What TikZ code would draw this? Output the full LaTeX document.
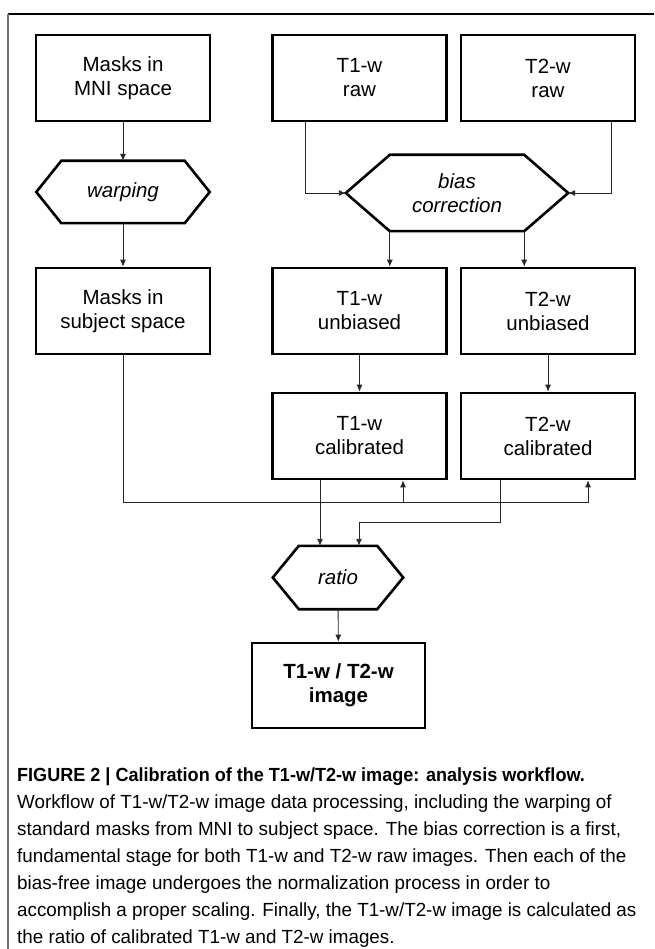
\documentclass[tikz,border=0pt]{standalone}
\usepackage{fontspec}
\setmainfont{Liberation Sans}
\newfontfamily\capfont{Liberation Sans}[FakeStretch=0.99]
\usetikzlibrary{arrows.meta}
% hexagon outline round a node: name, slant
\newcommand{\hexline}[2]{%
  \draw[line width=2.6pt, line join=miter] (#1.west) -- ([xshift=#2]#1.north west)
    -- ([xshift=-#2]#1.north east) -- (#1.east) -- ([xshift=-#2]#1.south east)
    -- ([xshift=#2]#1.south west) -- cycle;}
\begin{document}
\begin{tikzpicture}[x=1pt, y=-1pt,
    box/.style={draw, line width=2.6pt, minimum width=174pt, minimum height=86pt, inner sep=0pt, align=center, font=\fontsize{20.5}{24}\selectfont},
    hexa/.style={minimum width=#1, inner sep=0pt, align=center, font=\fontsize{20.5}{24}\selectfont\itshape},
    arrow/.style={->, >={Latex[length=7pt,width=6pt]}, line width=0.9pt, black!85},
    frame/.style={line width=1.4pt}
]
    \useasboundingbox (0,0) rectangle (654,949);
    % frame
    \draw[frame] (8,14) -- (654,14);
    \draw[frame, black!55, line width=2pt] (8,14) -- (8,949);
    % masks
    \node[box] (mni) at (123,78) {Masks in\\MNI space};
    \node[hexa=173pt, minimum height=62pt] (warp) at (123,192) {warping};
    \hexline{warp}{25pt}
    \node[box] (subj) at (123,311) {Masks in\\subject space};
    % raw images
    \node[box] (t1raw) at (359.5,78) {T1-w\\raw};
    \node[box] (t2raw) at (548,78) {T2-w\\raw};
    \node[hexa=222pt, minimum height=76pt] (bias) at (457,193) {bias\\correction};
    \hexline{bias}{44pt}
    % unbiased and calibrated
    \node[box] (t1unb) at (359.5,311) {T1-w\\unbiased};
    \node[box] (t2unb) at (548,311) {T2-w\\unbiased};
    \node[box] (t1cal) at (359.5,436) {T1-w\\calibrated};
    \node[box] (t2cal) at (548,436) {T2-w\\calibrated};
    % ratio
    \node[hexa=130pt, minimum height=63pt] (ratio) at (338,577.5) {ratio};
    \hexline{ratio}{26pt}
    \node[box, minimum width=173pt, minimum height=85pt, font=\fontsize{20.5}{24}\selectfont\bfseries] (res) at (338.5,685.5) {T1-w / T2-w\\image};
    % connectors
    \draw[arrow] (mni) -- (warp);
    \draw[arrow] (warp) -- (subj);
    \draw[arrow] ([xshift=-54.5pt]t1raw.south) |- (bias.west);
    \draw[arrow] ([xshift=63pt]t2raw.south) |- (bias.east);
    \coordinate (bl) at ([xshift=44pt]bias.south west);
    \coordinate (br) at ([xshift=-44pt]bias.south east);
    \draw[arrow] (bl) -- (bl |- t1unb.north);
    \draw[arrow] (br) -- (br |- t2unb.north);
    \draw[arrow] (t1unb) -- (t1cal);
    \draw[arrow] (t2unb) -- (t2cal);
    \coordinate (j1) at (403,502);
    \coordinate (j2) at (588,502);
    \draw[arrow] (subj.south) |- (j2) -- (j2 |- t2cal.south);
    \draw[arrow] (j1) -- (j1 |- t1cal.south);
    \coordinate (c1) at ([xshift=-39.5pt]t1cal.south);
    \coordinate (c2) at ([xshift=-48pt]t2cal.south);
    \draw[arrow] (c1) -- (c1 |- ratio.north);
    \draw[arrow] (c2) -- ++(0,42) -| ([xshift=21pt]ratio.north);
    \draw[arrow] (ratio) -- (res);
    % caption
    \node[anchor=north west, inner sep=0pt, align=left, font=\capfont\fontsize{19}{27}\selectfont] (cap) at (17,768) {%
      \textbf{\addfontfeature{FakeStretch=0.95}FIGURE 2 | Calibration of the T1-w/T2-w image: analysis workflow.}\\
      Workflow of T1-w/T2-w image data processing, including the warping of\\
      standard masks from MNI to subject space. The bias correction is a first,\\
      fundamental stage for both T1-w and T2-w raw images. Then each of the\\
      bias-free image undergoes the normalization process in order to\\
      accomplish a proper scaling. Finally, the T1-w/T2-w image is calculated as\\
      the ratio of calibrated T1-w and T2-w images.};
\end{tikzpicture}
\end{document}
